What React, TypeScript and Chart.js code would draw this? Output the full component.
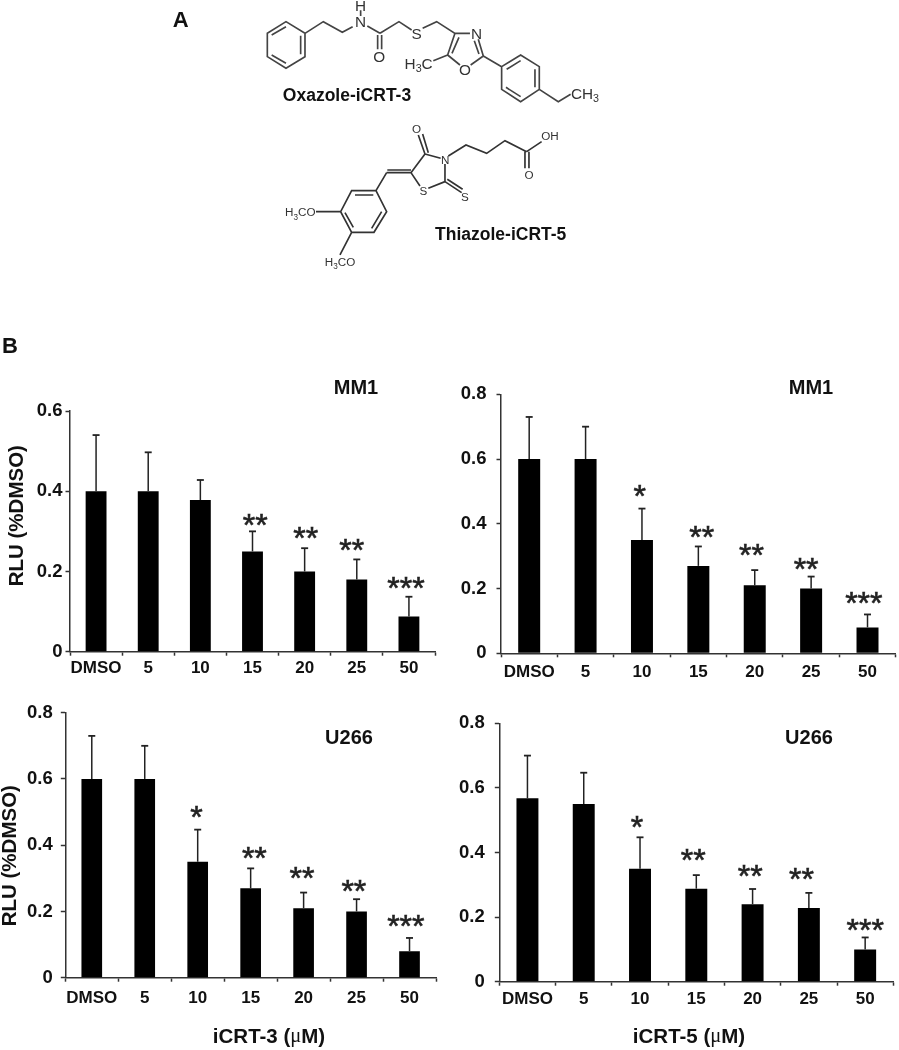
import React, { useEffect, useRef } from "react";
import { Chart, registerables } from "chart.js";

Chart.register(...registerables);

// ---------- data ----------
const doseLabels = ["DMSO", "5", "10", "15", "20", "25", "50"];

const mm1Icrt3Values = [0.4, 0.4, 0.378, 0.25, 0.2, 0.18, 0.088];
const mm1Icrt3ErrorTops = [0.54, 0.497, 0.428, 0.3, 0.258, 0.23, 0.137];
const mm1Icrt3Stars = ["", "", "", "**", "**", "**", "***"];

const mm1Icrt5Values = [0.6, 0.6, 0.35, 0.27, 0.21, 0.2, 0.08];
const mm1Icrt5ErrorTops = [0.73, 0.7, 0.447, 0.33, 0.257, 0.237, 0.12];
const mm1Icrt5Stars = ["", "", "*", "**", "**", "**", "***"];

const u266Icrt3Values = [0.6, 0.6, 0.35, 0.27, 0.21, 0.2, 0.08];
const u266Icrt3ErrorTops = [0.73, 0.7, 0.447, 0.33, 0.257, 0.237, 0.12];
const u266Icrt3Stars = ["", "", "*", "**", "**", "**", "***"];

const u266Icrt5Values = [0.568, 0.55, 0.35, 0.288, 0.24, 0.228, 0.1];
const u266Icrt5ErrorTops = [0.7, 0.647, 0.447, 0.33, 0.287, 0.275, 0.137];
const u266Icrt5Stars = ["", "", "*", "**", "**", "**", "***"];

// ---------- layout (page pixels) ----------
const SANS = '"Liberation Sans", Arial, sans-serif';
const panels = [
  {
    id: "mm1-3", title: "MM1", yLabel: "RLU (%DMSO)", xLabel: null as null | string[],
    values: mm1Icrt3Values, tops: mm1Icrt3ErrorTops, stars: mm1Icrt3Stars, yMax: 0.6,
    box: { l: 0, t: 370, w: 445, h: 320 }, axis: { x: 70, end: 435, top: 411, bottom: 651.7 },
    titleAt: [356, 388], yLabelAt: [17, 515.7], xLabelAt: null as null | number[],
    yPad: 3, xPad: 2, bar: 0.4,
    starNudge: [[0, 0], [0, 0], [0, 0], [2.7, 8.7], [1, 13], [-5, 11.7], [-3, 11]],
  },
  {
    id: "mm1-5", title: "MM1", yLabel: null, xLabel: null,
    values: mm1Icrt5Values, tops: mm1Icrt5ErrorTops, stars: mm1Icrt5Stars, yMax: 0.8,
    box: { l: 450, t: 370, w: 449, h: 320 }, axis: { x: 501, end: 895.7, top: 394.3, bottom: 653.3 },
    titleAt: [811, 388], yLabelAt: null, xLabelAt: null,
    yPad: 10, xPad: 4.5, bar: 0.39,
    starNudge: [[0, 0], [0, 0], [-2.3, 14.7], [3.3, 12.3], [-3.3, 17.3], [-5, 10], [-3.7, 14]],
  },
  {
    id: "u266-3", title: "U266", yLabel: "RLU (%DMSO)", xLabel: ["iCRT-3 (", "μ", "M)"],
    values: u266Icrt3Values, tops: u266Icrt3ErrorTops, stars: u266Icrt3Stars, yMax: 0.8,
    box: { l: 0, t: 690, w: 445, h: 360 }, axis: { x: 65.3, end: 436, top: 712.7, bottom: 977.7 },
    titleAt: [349, 738], yLabelAt: [10, 855.7], xLabelAt: [269, 1037],
    yPad: 8, xPad: 6, bar: 0.39,
    starNudge: [[0, 0], [0, 0], [-1.3, 15.3], [3.7, 12.7], [-1.7, 17.3], [-2.7, 10.7], [-3.7, 14.7]],
  },
  {
    id: "u266-5", title: "U266", yLabel: null, xLabel: ["iCRT-5 (", "μ", "M)"],
    values: u266Icrt5Values, tops: u266Icrt5ErrorTops, stars: u266Icrt5Stars, yMax: 0.8,
    box: { l: 450, t: 690, w: 449, h: 360 }, axis: { x: 499.3, end: 893.3, top: 723.3, bottom: 981.7 },
    titleAt: [809, 738], yLabelAt: null, xLabelAt: [689, 1037],
    yPad: 10, xPad: 3.5, bar: 0.39,
    starNudge: [[0, 0], [0, 0], [-3, 12.3], [-3, 17.3], [-2.3, 15], [-7.3, 16.3], [0, 9.7]],
  },
];

type Panel = (typeof panels)[number];

const panelPlugin = (p: Panel) => ({
  id: "panelDecor",
  afterDatasetsDraw(chart: any) {
    const { ctx, scales } = chart;
    const meta = chart.getDatasetMeta(0);
    ctx.save();
    // error bars
    ctx.strokeStyle = "#222";
    p.tops.forEach((top, i) => {
      const x = meta.data[i].x;
      const yTop = scales.y.getPixelForValue(top);
      const yBar = scales.y.getPixelForValue(p.values[i]);
      ctx.lineWidth = 1.5;
      ctx.beginPath();
      ctx.moveTo(x, yBar);
      ctx.lineTo(x, yTop);
      ctx.stroke();
      ctx.lineWidth = 1.8;
      ctx.beginPath();
      ctx.moveTo(x - 3.5, yTop);
      ctx.lineTo(x + 3.5, yTop);
      ctx.stroke();
      // significance stars: the nudge is measured to the glyph centre
      if (p.stars[i]) {
        ctx.fillStyle = "#222";
        ctx.font = `32px ${SANS}`;
        ctx.textAlign = "center";
        ctx.textBaseline = "alphabetic";
        const sx = x + p.starNudge[i][0];
        const sy = yTop - p.starNudge[i][1] + 13.4;
        ctx.fillText(p.stars[i], sx, sy);
        ctx.lineWidth = 0.6;
        ctx.strokeText(p.stars[i], sx, sy);
      }
    });
    // panel texts
    ctx.fillStyle = "#111";
    ctx.textAlign = "center";
    ctx.textBaseline = "middle";
    ctx.font = `bold 20px ${SANS}`;
    ctx.fillText(p.title, p.titleAt[0] - p.box.l, p.titleAt[1] - p.box.t);
    if (p.yLabel && p.yLabelAt) {
      ctx.save();
      ctx.translate(p.yLabelAt[0] - p.box.l, p.yLabelAt[1] - p.box.t);
      ctx.rotate(-Math.PI / 2);
      ctx.font = `bold 20.5px ${SANS}`;
      ctx.fillText(p.yLabel, 0, 0);
      ctx.restore();
    }
    if (p.xLabel && p.xLabelAt) {
      const fonts = [`bold 20.5px ${SANS}`, `20.5px "Liberation Serif", serif`, `bold 20.5px ${SANS}`];
      const widths = p.xLabel.map((s, i) => {
        ctx.font = fonts[i];
        return ctx.measureText(s).width;
      });
      let x = p.xLabelAt[0] - p.box.l - widths.reduce((a, b) => a + b, 0) / 2;
      ctx.textAlign = "left";
      p.xLabel.forEach((s, i) => {
        ctx.font = fonts[i];
        ctx.fillText(s, x, p.xLabelAt![1] - p.box.t);
        x += widths[i];
      });
    }
    ctx.restore();
  },
});

function BarPanel({ p }: { p: Panel }) {
  const ref = useRef<HTMLCanvasElement>(null);
  useEffect(() => {
    const { box, axis } = p;
    const chart = new Chart(ref.current!, {
      type: "bar",
      data: {
        labels: doseLabels,
        datasets: [
          {
            data: p.values,
            backgroundColor: "#000",
            barPercentage: p.bar,
            categoryPercentage: 1,
          },
        ],
      },
      options: {
        animation: false,
        responsive: false,
        maintainAspectRatio: false,
        layout: {
          padding: {
            left: 0,
            top: axis.top - box.t,
            right: box.l + box.w - axis.end,
            bottom: 0,
          },
        },
        plugins: { legend: { display: false }, tooltip: { enabled: false }, title: { display: false } },
        scales: {
          x: {
            afterFit: (s: any) => {
              s.height = box.t + box.h - axis.bottom;
            },
            grid: { drawOnChartArea: false, tickLength: 4, tickColor: "#333", tickWidth: 1.5 },
            border: { color: "#333", width: 1.5 },
            ticks: {
              autoSkip: false,
              maxRotation: 0,
              minRotation: 0,
              padding: p.xPad,
              color: "#111",
              font: { family: SANS, weight: "bold", size: 17 },
            },
          },
          y: {
            min: 0,
            max: p.yMax,
            afterFit: (s: any) => {
              s.width = axis.x - box.l;
            },
            grid: { drawOnChartArea: false, tickLength: 4.5, tickColor: "#333", tickWidth: 1.5 },
            border: { color: "#333", width: 1.5 },
            ticks: {
              stepSize: 0.2,
              padding: p.yPad,
              color: "#111",
              font: { family: SANS, weight: "bold", size: 18.5 },
              callback: (v: any) => (Number(v) === 0 ? "0" : Number(v).toFixed(1)),
            },
          },
        },
      } as any,
      plugins: [panelPlugin(p)],
    });
    return () => chart.destroy();
  }, [p]);
  return (
    <canvas
      ref={ref}
      width={p.box.w}
      height={p.box.h}
      style={{ position: "absolute", left: p.box.l, top: p.box.t, width: p.box.w, height: p.box.h }}
    />
  );
}

// Chemical structure drawings (skeletal formula line art, not chart data)
const oxazoleBonds =
  "M408 65L465 100L465 170L408 205L352 170L352 100Z M452 107L452 163 M408 190L365 165 M365 105L408 80 " +
  "M465 100L520 65L577 97L608 80 M632 31L632 48 M652 78L690 100 M683 105L683 148 M695 105L695 148 " +
  "M690 100L747 65L785 90 M818 85L860 65L915 100L960 100 M915 100L893 165 M927 112L906 160 " +
  "M985 118L1000 168 M973 122L987 162 M1000 168L962 195 M930 195L893 165 M893 165L850 182 " +
  "M1000 168L1055 200 M1055 200L1112 165L1168 200L1168 268L1112 305L1055 268Z " +
  "M1070 208L1112 182 M1155 208L1155 262 M1112 290L1068 262 M1168 268L1225 305L1262 283";
const thiazoleBonds =
  "M805 405L825 462 M818 402L835 458 M825 462L872 475 M885 492L885 545 M885 545L835 565 M810 558L783 518 M783 518L825 462 " +
  "M885 545L935 578 M892 538L938 568 M895 468L948 435L1010 460L1065 422L1130 455 M1125 455L1125 505 M1137 455L1137 505 " +
  "M1130 455L1175 425 M783 518L710 518 M783 510L712 510 M710 518L678 572 " +
  "M678 572L710 635L672 697L605 697L572 635L605 572Z M615 585L670 585 M695 635L665 685 M610 682L585 638 " +
  "M572 635L498 635 M605 697L570 765";

function Sub({ children }: { children: string }) {
  return (
    <tspan dy="10" fontSize="0.7em">
      {children}
    </tspan>
  );
}

function Structures() {
  const atom = { fontFamily: SANS, fill: "#333", textAnchor: "middle" as const };
  return (
    <svg
      width={899}
      height={1050}
      style={{ position: "absolute", left: 0, top: 0, pointerEvents: "none" }}
    >
      <text x={180.7} y={27} fontFamily={SANS} fontWeight="bold" fontSize={22} fill="#111" textAnchor="middle">A</text>
      <text x={10} y={353} fontFamily={SANS} fontWeight="bold" fontSize={22} fill="#111" textAnchor="middle">B</text>
      <text x={347} y={101} fontFamily={SANS} fontWeight="bold" fontSize={17.5} fill="#111" textAnchor="middle">Oxazole-iCRT-3</text>
      <text x={500.7} y={240} fontFamily={SANS} fontWeight="bold" fontSize={17.5} fill="#111" textAnchor="middle">Thiazole-iCRT-5</text>
      <g transform="translate(150 0) scale(0.3333)">
        <path d={oxazoleBonds} fill="none" stroke="#444" strokeWidth={5} />
        <path d={thiazoleBonds} fill="none" stroke="#333" strokeWidth={5} />
        <g {...atom} fontSize={46}>
          <text x={632} y={34}>H</text>
          <text x={632} y={82}>N</text>
          <text x={688} y={187}>O</text>
          <text x={800} y={117}>S</text>
          <text x={980} y={117}>N</text>
          <text x={945} y={224}>O</text>
          <text x={806} y={206}>H<Sub>3</Sub><tspan dy="-10">C</tspan></text>
          <text x={1305} y={297}>CH<Sub>3</Sub></text>
        </g>
        <g {...atom} fontSize={35}>
          <text x={800} y={400}>O</text>
          <text x={886} y={492}>N</text>
          <text x={820} y={585}>S</text>
          <text x={945} y={604}>S</text>
          <text x={1200} y={421}>OH</text>
          <text x={1137} y={537}>O</text>
          <text x={451} y={649}>H<Sub>3</Sub><tspan dy="-10">CO</tspan></text>
          <text x={570} y={797}>H<Sub>3</Sub><tspan dy="-10">CO</tspan></text>
        </g>
      </g>
    </svg>
  );
}

export default function App() {
  useEffect(() => {
    document.body.style.margin = "0";
    document.body.style.background = "#fff";
  }, []);
  return (
    <div style={{ position: "relative", width: 899, height: 1050, overflow: "hidden", filter: "blur(0.45px)" }}>
      <Structures />
      {panels.map((p) => (
        <BarPanel key={p.id} p={p} />
      ))}
    </div>
  );
}
